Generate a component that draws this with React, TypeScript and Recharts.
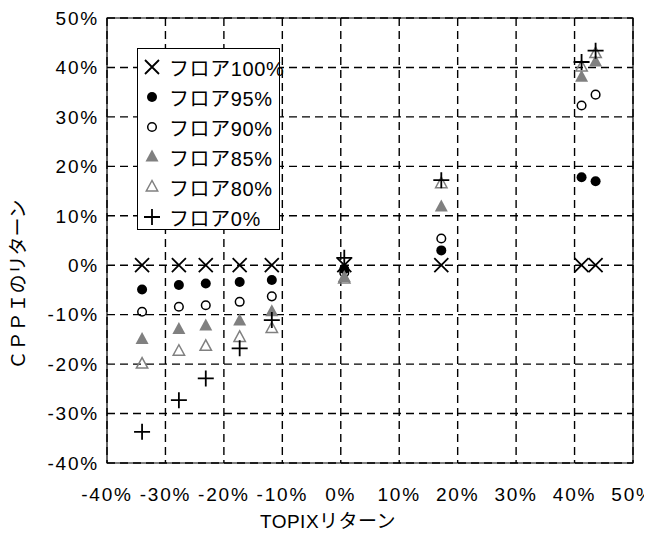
import React from 'react';
import {
  ScatterChart,
  Scatter,
  XAxis,
  YAxis,
  CartesianGrid,
  ReferenceArea,
  Legend,
} from 'recharts';

const FONT = "'Liberation Sans', Arial, 'Noto Sans CJK JP', sans-serif";

// TOPIX returns (%) for each observation
const topix = [-34.0, -27.7, -23.1, -17.3, -11.8, 0.6, 17.2, 41.2, 43.6];
// CPPI returns (%) per floor level
const floor100 = [0, 0, 0, 0, 0, 0, 0, 0, 0];
const floor95 = [-4.9, -4.0, -3.7, -3.4, -3.0, -0.8, 3.0, 17.8, 17.0];
const floor90 = [-9.4, -8.4, -8.1, -7.4, -6.3, -1.5, 5.4, 32.3, 34.5];
const floor85 = [-15.0, -13.0, -12.3, -11.3, -9.4, -2.5, 11.8, 38.0, 41.1];
const floor80 = [-20.0, -17.4, -16.4, -14.6, -12.8, -2.8, 16.5, 40.1, 42.8];
const floor0 = [-33.7, -27.3, -22.9, -16.8, -11.1, 1.5, 17.2, 41.1, 43.4];

const ticks = [-40, -30, -20, -10, 0, 10, 20, 30, 40, 50];

const seriesNames = ['フロア100%', 'フロア95%', 'フロア90%', 'フロア85%', 'フロア80%', 'フロア0%'];
const seriesValues = [floor100, floor95, floor90, floor85, floor80, floor0];
const seriesKinds = ['x', 'dot', 'ring', 'tri', 'triOpen', 'plus'];

const GRAY = '#808080';

function Marker({ kind, cx, cy }: { kind: string; cx: number; cy: number }) {
  switch (kind) {
    case 'x':
      return (
        <path
          d={`M${cx - 7},${cy - 7}L${cx + 7},${cy + 7}M${cx - 7},${cy + 7}L${cx + 7},${cy - 7}`}
          stroke="#000"
          strokeWidth={1.8}
          fill="none"
        />
      );
    case 'dot':
      return <circle cx={cx} cy={cy} r={5} fill="#000" />;
    case 'ring':
      return <circle cx={cx} cy={cy} r={4.3} fill="none" stroke="#000" strokeWidth={1.5} />;
    case 'tri':
      return (
        <polygon
          points={`${cx},${cy - 7.5} ${cx - 6.5},${cy + 4.5} ${cx + 6.5},${cy + 4.5}`}
          fill={GRAY}
        />
      );
    case 'triOpen':
      return (
        <polygon
          points={`${cx},${cy - 6.5} ${cx - 5.7},${cy + 4} ${cx + 5.7},${cy + 4}`}
          fill="none"
          stroke={GRAY}
          strokeWidth={1.5}
        />
      );
    case 'plus':
    default:
      return (
        <path
          d={`M${cx - 8},${cy}L${cx + 8},${cy}M${cx},${cy - 8}L${cx},${cy + 8}`}
          stroke="#000"
          strokeWidth={1.8}
          fill="none"
        />
      );
  }
}

function LegendBox() {
  return (
    <div
      style={{
        boxSizing: 'border-box',
        width: 143,
        height: 182,
        border: '1.5px solid #000',
        background: '#fff',
        paddingTop: 3,
        fontFamily: FONT,
        fontSize: 20,
        letterSpacing: 0.6,
        color: '#000',
        whiteSpace: 'nowrap',
      }}
    >
      {seriesNames.map((name, i) => (
        <div key={name} style={{ height: 30, display: 'flex', alignItems: 'center' }}>
          <svg width={31} height={30} style={{ flex: '0 0 auto' }}>
            <Marker kind={seriesKinds[i]} cx={14} cy={15} />
          </svg>
          <span>{name}</span>
        </div>
      ))}
    </div>
  );
}

const tickStyle = { fill: '#000', fontSize: 19, fontFamily: FONT, letterSpacing: 1.8 };

export default function App() {
  const datasets = seriesValues.map((vals) => vals.map((v, i) => ({ x: topix[i], y: v })));
  return (
    <div style={{ width: 644, height: 525, fontFamily: FONT }}>
      <ScatterChart
        width={644}
        height={525}
        margin={{ top: 10, right: 19, bottom: 0, left: 0 }}
      >
        <CartesianGrid stroke="#000" strokeWidth={1.4} strokeDasharray="8 5" />
        <XAxis
          type="number"
          dataKey="x"
          domain={[-40, 50]}
          ticks={ticks}
          interval={0}
          height={70}
          tickFormatter={(v: number) => `${v}%`}
          tick={tickStyle}
          tickLine={false}
          tickSize={0}
          tickMargin={25}
          axisLine={false}
          allowDataOverflow
          label={{
            value: 'TOPIXリターン',
            position: 'insideBottom',
            offset: 5,
            dx: -42,
            fill: '#000',
            fontSize: 19,
            fontFamily: FONT,
            letterSpacing: 0.5,
          }}
        />
        <YAxis
          type="number"
          dataKey="y"
          domain={[-40, 50]}
          ticks={ticks}
          interval={0}
          width={99}
          tickFormatter={(v: number) => `${v}%`}
          tick={tickStyle}
          tickLine={false}
          tickSize={0}
          tickMargin={8}
          axisLine={false}
          allowDataOverflow
          label={{
            value: 'ＣＰＰＩのリターン',
            position: 'insideLeft',
            angle: -90,
            offset: 10,
            dy: 44,
            fill: '#000',
            fontSize: 19,
            fontFamily: FONT,
            style: { textAnchor: 'middle' },
          }}
        />
        <ReferenceArea
          x1={-40}
          x2={50}
          y1={-40}
          y2={50}
          fill="none"
          fillOpacity={0}
          stroke="#000"
          strokeWidth={1.2}
          ifOverflow="visible"
        />
        {datasets.map((data, i) => (
          <Scatter
            key={seriesNames[i]}
            name={seriesNames[i]}
            data={data}
            isAnimationActive={false}
            shape={(p: any) => <Marker kind={seriesKinds[i]} cx={p.cx} cy={p.cy} />}
          />
        ))}
        <Legend
          layout="vertical"
          align="center"
          verticalAlign="middle"
          wrapperStyle={{ position: 'absolute', left: 129, top: 40, width: 'auto', height: 'auto' }}
          content={() => <LegendBox />}
        />
      </ScatterChart>
    </div>
  );
}
